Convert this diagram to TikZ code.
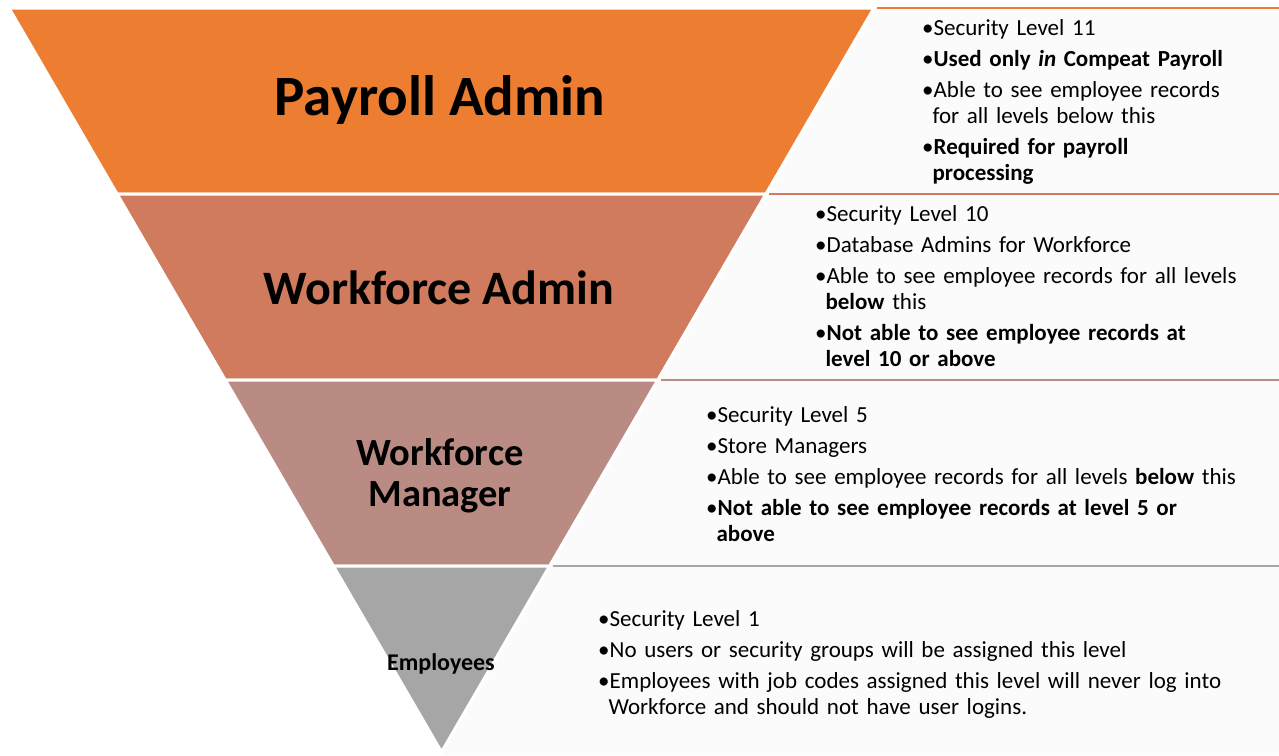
\documentclass[tikz,border=0pt]{standalone}
\usepackage{fontspec}
\setmainfont{Carlito}
\usepackage{tikz}
\usetikzlibrary{positioning}

\definecolor{bandA}{RGB}{237,125,49}
\definecolor{bandB}{RGB}{208,123,93}
\definecolor{bandC}{RGB}{185,139,131}
\definecolor{bandD}{RGB}{166,166,166}

% one bullet line, later lines hang under the text
\newcommand{\lvitem}[1]{\par\hangindent=0.45em\hangafter=1\noindent\textbullet#1}

\begin{document}
\begin{tikzpicture}[x=1pt,y=-1pt,
    band/.style={draw=white,line width=3pt,line join=miter},
    panel/.style={fill=black!1.5},
    rule/.style={line width=2.2pt},
    title/.style={font=\bfseries\fontsize{#1}{#1}\selectfont,align=center,inner sep=0pt},
    info/.style={anchor=north west,inner sep=0pt,text width=#1,align=left,
        font=\fontsize{23}{26}\selectfont\setlength{\parskip}{5pt}}]
    \useasboundingbox (0,0) rectangle (1279,755);

    % panels on the right
    \fill[panel] (876,8) -- (1279,8) -- (1279,194) -- (767.9,194) -- cycle;
    \fill[panel] (767.9,194) -- (1279,194) -- (1279,380) -- (659.8,380) -- cycle;
    \fill[panel] (659.8,380) -- (1279,380) -- (1279,566) -- (551.6,566) -- cycle;
    \fill[panel] (551.6,566) -- (1279,566) -- (1279,755) -- (441.7,755) -- cycle;

    % the inverted pyramid
    \filldraw[band,fill=bandA] (9,8) -- (874,8) -- (765.9,194) -- (117.1,194) -- cycle;
    \filldraw[band,fill=bandB] (117.1,194) -- (765.9,194) -- (657.75,380) -- (225.25,380) -- cycle;
    \filldraw[band,fill=bandC] (225.25,380) -- (657.75,380) -- (549.6,566) -- (333.4,566) -- cycle;
    \filldraw[band,fill=bandD] (333.4,566) -- (549.6,566) -- (441.5,752) -- cycle;

    \draw[rule,bandA] (877,8) -- (1279,8);
    \draw[rule,bandB] (769,194) -- (1279,194);
    \draw[rule,bandC] (661,380) -- (1279,380);
    \draw[rule,bandD] (553,566) -- (1279,566);

    % level names
    \node[title=57] (payroll) at (440,100) {Payroll Admin};
    \node[title=48] (wfadmin) at (439,288) {Workforce Admin};
    \node[title=38.5] (wfmanager) at (440,476) {Workforce\\[2.5pt]Manager};
    \node[title=24] (employees) at (441,664) {Employees};

    % what each level means
    \node[info=380pt] (payinfo) at (922,4) {%
        \lvitem{Security Level 11}
        \lvitem{\textbf{Used only \textit{in} Compeat Payroll}}
        \lvitem{Able to see employee records\newline for all levels below this}
        \lvitem{\textbf{Required for payroll\newline processing}}\par};
    \node[info=460pt] (wfainfo) at (815,190) {%
        \lvitem{Security Level 10}
        \lvitem{Database Admins for Workforce}
        \lvitem{Able to see employee records for all levels\newline \textbf{below} this}
        \lvitem{\textbf{Not able to see employee records at\newline level 10 or above}}\par};
    \node[info=570pt] (wfminfo) at (706,391) {%
        \lvitem{Security Level 5}
        \lvitem{Store Managers}
        \lvitem{Able to see employee records for all levels \textbf{below} this}
        \lvitem{\textbf{Not able to see employee records at level 5 or\newline above}}\par};
    \node[info=680pt] (empinfo) at (598,595) {%
        \lvitem{Security Level 1}
        \lvitem{No users or security groups will be assigned this level}
        \lvitem{Employees with job codes assigned this level will never log into\newline Workforce and should not have user logins.}\par};
\end{tikzpicture}
\end{document}
